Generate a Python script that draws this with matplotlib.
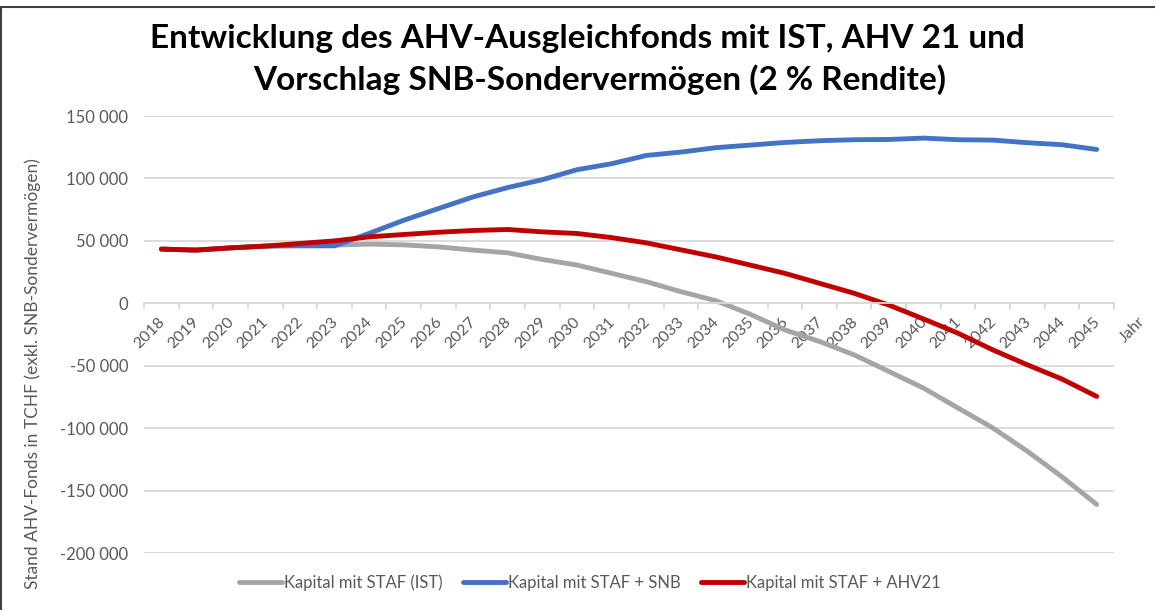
import numpy as np
import matplotlib.pyplot as plt
import matplotlib.transforms as mtransforms
from matplotlib.lines import Line2D
from matplotlib.ticker import FuncFormatter

plt.rcParams['font.family'] = ['Lato', 'DejaVu Sans']

# Werte in TCHF
years = list(range(2018, 2046))
kapital_ist = [43400, 42600, 44400, 45800, 46800, 46600, 47400, 46800, 45200, 42600,
               40400, 35100, 30600, 24000, 17300, 9300, 2100, -8800, -21300, -30600,
               -41300, -54600, -67900, -83900, -99800, -118500, -139000, -161100]
kapital_snb = [43400, 42600, 44400, 45800, 46000, 46000, 56000, 66500, 75900, 85200,
               92700, 99000, 107000, 111800, 118400, 121100, 124600, 126700, 128800, 130200,
               131000, 131200, 132300, 131000, 130700, 128600, 127000, 123200]
kapital_ahv21 = [43400, 42600, 44400, 45800, 47900, 50000, 53200, 55100, 56900, 58300,
                 59100, 57200, 55900, 52600, 48400, 42800, 37200, 30600, 24000, 16000,
                 8000, -1400, -12500, -24000, -37300, -49300, -60700, -74600]

series_labels = ['Kapital mit STAF (IST)', 'Kapital mit STAF + SNB', 'Kapital mit STAF + AHV21']
series_colors = ['#A5A5A5', '#4472C4', '#C00000']

title_line1 = 'Entwicklung des AHV-Ausgleichfonds mit IST, AHV 21 und'
title_line2 = 'Vorschlag SNB-Sondervermögen (2 % Rendite)'
y_label = 'Stand AHV-Fonds in TCHF (exkl. SNB-Sondervermögen)'

W, H = 1155, 610
fig = plt.figure(figsize=(W / 100, H / 100), dpi=100)
ax = fig.add_axes([144 / W, 1 - 553 / H, (1114 - 144) / W, (553 - 116) / H])

x = np.arange(len(years))
handles = []
for vals, col, lab in zip([kapital_ist, kapital_snb, kapital_ahv21], series_colors, series_labels):
    h, = ax.plot(x, vals, color=col, lw=3.5, solid_capstyle='round', solid_joinstyle='round', label=lab)
    handles.append(h)

ax.set_xlim(-0.5, len(years) - 0.5)
ax.set_ylim(-200000, 150000)
ax.set_yticks(np.arange(-200000, 150001, 50000))
ax.yaxis.set_major_formatter(FuncFormatter(lambda v, p: f"{int(v):,}".replace(",", " ")))
ax.yaxis.grid(True, color='#D9D9D9', lw=1.3)
ax.set_axisbelow(True)

for s in ['top', 'right', 'left']:
    ax.spines[s].set_visible(False)
ax.spines['bottom'].set_position(('data', 0))
ax.spines['bottom'].set_color('#D9D9D9')
ax.spines['bottom'].set_linewidth(1.3)

ax.set_xticks(x)
ax.set_xticklabels([str(y) for y in years], rotation=45, ha='right', va='top')
ax.set_xticks(np.arange(-0.5, len(years)), minor=True)
ax.tick_params(axis='x', which='major', length=0, pad=8, labelsize=11.5, labelcolor='#595959')
ax.tick_params(axis='x', which='minor', length=4, width=1.3, color='#D9D9D9', direction='out')
ax.tick_params(axis='y', length=0, pad=11.5, labelsize=12, labelcolor='#595959')

offset = mtransforms.ScaledTranslation(6 / 100, 0, fig.dpi_scale_trans)
for lbl in ax.get_xticklabels():
    lbl.set_transform(lbl.get_transform() + offset)

ax.annotate('Jahr', xy=(1, 0), xycoords=('axes fraction', 'data'), xytext=(34, -11),
            textcoords='offset pixels', rotation=45, ha='right', va='top',
            fontsize=11.5, color='#595959')

fig.text(587 / W, 1 - 48 / H, title_line1, ha='center', va='baseline',
         fontsize=24, fontweight='bold', color='#000000')
fig.text(600 / W, 1 - 90 / H, title_line2, ha='center', va='baseline',
         fontsize=24, fontweight='bold', color='#000000')

fig.text(33 / W, 1 - 373.5 / H, y_label, rotation=90, ha='center', va='center',
         fontsize=12.5, color='#595959')

fig.legend(handles=handles, loc='center', bbox_to_anchor=(590 / W, 1 - 583 / H), ncol=3,
           frameon=False, fontsize=12, handlelength=2.6, handletextpad=0.12,
           columnspacing=1.2, labelcolor='#595959')

# Rahmen oben und links
fig.add_artist(Line2D([1 / W, 1], [1 - 6.7 / H, 1 - 6.7 / H], transform=fig.transFigure,
                      color='#404040', lw=1.5))
fig.add_artist(Line2D([1.2 / W, 1.2 / W], [0, 1 - 6.7 / H], transform=fig.transFigure,
                      color='#404040', lw=1.5))

fig.savefig('out.png', dpi=100)
